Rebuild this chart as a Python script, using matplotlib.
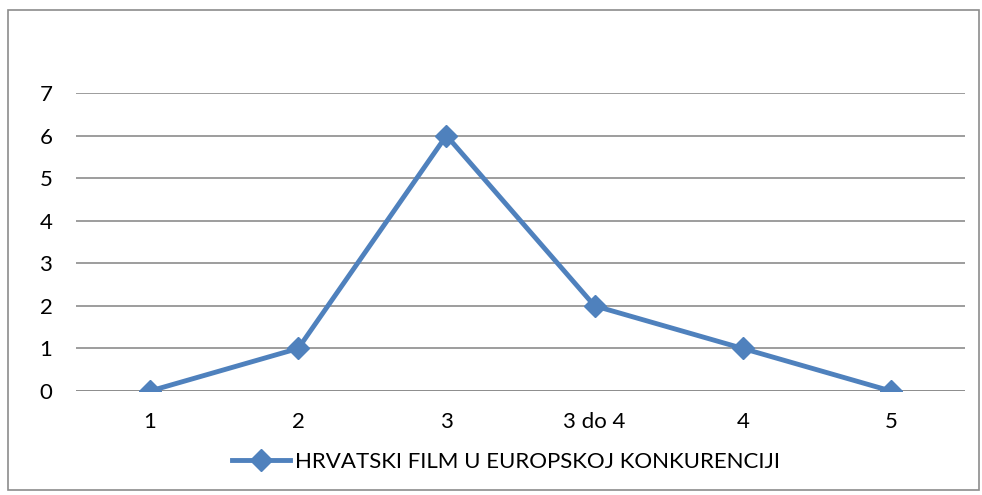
import matplotlib.pyplot as plt
from matplotlib.patches import Rectangle

categories = ['1', '2', '3', '3 do 4', '4', '5']
values = [0, 1, 6, 2, 1, 0]
series_name = 'HRVATSKI FILM U EUROPSKOJ KONKURENCIJI'

plt.rcParams['font.family'] = ['Lato', 'DejaVu Sans']

W, H = 982, 495
fig = plt.figure(figsize=(W / 100, H / 100), dpi=100)

# outer chart border
fig.patches.append(Rectangle((8 / W, 1 - 490 / H), 971 / W, 480 / H,
                             transform=fig.transFigure, fill=False,
                             edgecolor='#8c8c8c', linewidth=1.2))

ax = fig.add_axes([76 / W, 1 - 391 / H, 889 / W, 298 / H])
x = range(len(categories))
ax.plot(x, values, color='#4f81bd', linewidth=3.5, marker='D', markersize=11,
        label=series_name, zorder=3)

ax.set_xlim(-0.5, len(categories) - 0.5)
ax.set_ylim(0, 7)
ax.set_yticks(range(0, 8))
ax.set_xticks(list(x))
ax.set_xticklabels(categories)
ax.yaxis.grid(True, color='#8c8c8c', linewidth=1.2)
ax.set_axisbelow(True)
for s in ax.spines.values():
    s.set_visible(False)
ax.tick_params(length=0, labelsize=16)
ax.tick_params(axis='y', pad=17)
ax.tick_params(axis='x', pad=15)
ax.axhline(0, color='#8c8c8c', linewidth=1.2, zorder=1)

fig.legend(loc='center', bbox_to_anchor=(506 / W, 1 - 462 / H), frameon=False,
           fontsize=16, handlelength=2.6, handletextpad=0.2)

fig.savefig('out.png', dpi=100)
